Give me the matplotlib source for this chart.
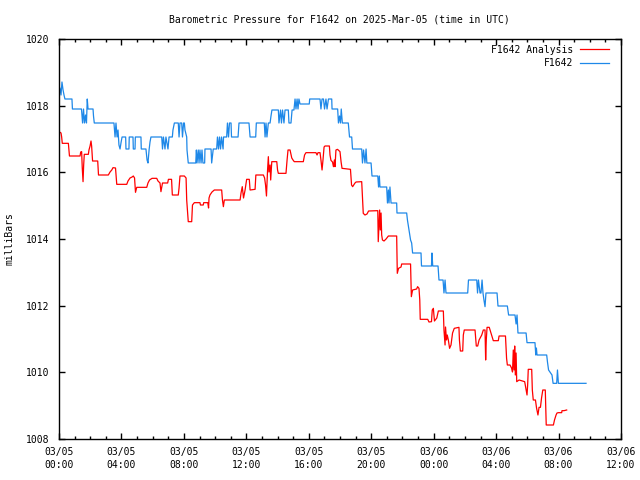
import matplotlib
matplotlib.use("Agg")
import matplotlib.pyplot as plt

plt.rcParams.update({
    "font.family": "DejaVu Sans Mono", "font.size": 7,
    "axes.linewidth": 1.0,
})

# hours since 2025-03-05 00:00 UTC, pressure in mb
obs_hours = [0.00, 0.06, 0.13, 0.19, 0.26, 0.32, 0.38, 0.83, 0.86, 1.44, 1.51, 1.57, 1.63, 1.70, 1.76,
             1.81, 1.86, 2.18, 2.21, 2.26, 3.52, 3.59, 3.65, 3.72, 3.78, 3.84, 3.91, 3.97, 4.04, 4.27,
             4.29, 4.48, 4.50, 4.74, 4.76, 4.87, 4.89, 5.25, 5.27, 5.57, 5.64, 5.70, 5.77, 5.83, 5.89,
             6.58, 6.63, 6.69, 6.79, 6.85, 6.98, 7.05, 7.26, 7.30, 7.39, 7.64, 7.69, 7.75, 7.86, 7.91,
             7.98, 8.03, 8.07, 8.18, 8.20, 8.28, 8.76, 8.80, 8.84, 8.92, 8.97, 9.03, 9.10, 9.16, 9.22,
             9.33, 9.35, 9.74, 9.78, 9.88, 10.10, 10.15, 10.22, 10.28, 10.35, 10.41, 10.51, 10.54, 10.74,
             10.79, 10.86, 10.92, 11.02, 11.05, 11.47, 11.53, 12.17, 12.24, 12.60, 12.64, 13.15, 13.20,
             13.26, 13.32, 13.41, 13.52, 13.58, 13.64, 14.05, 14.09, 14.19, 14.25, 14.32, 14.41, 14.48,
             14.69, 14.73, 14.86, 14.93, 15.05, 15.12, 15.18, 15.25, 15.31, 15.37, 15.44, 16.03, 16.06,
             16.72, 16.78, 16.85, 16.94, 17.01, 17.10, 17.17, 17.26, 17.47, 17.49, 17.85, 17.90, 17.97,
             18.03, 18.08, 18.15, 18.53, 18.61, 18.75, 18.80, 19.39, 19.44, 19.51, 19.60, 19.67, 19.72,
             19.99, 20.05, 20.42, 20.47, 20.52, 20.56, 20.99, 21.04, 21.10, 21.14, 21.20, 21.27, 21.63,
             21.65, 22.27, 22.32, 22.39, 22.45, 22.52, 22.59, 22.65, 23.19, 23.22, 23.86, 23.89, 23.94,
             24.28, 24.34, 24.60, 24.66, 24.73, 24.79, 26.18, 26.23, 26.76, 26.81, 26.87, 26.97, 27.03,
             27.10, 27.16, 27.22, 27.29, 27.35, 28.06, 28.12, 28.72, 28.80, 29.21, 29.28, 29.34, 29.40,
             29.92, 29.98, 30.49, 30.54, 30.58, 30.62, 31.24, 31.29, 31.36, 31.58, 31.65, 31.88, 31.93,
             31.99, 33.76]
obs_mb = [1018.38, 1018.53, 1018.32, 1018.71, 1018.47, 1018.32, 1018.20, 1018.20, 1017.90, 1017.90,
          1017.48, 1017.90, 1017.48, 1017.72, 1017.48, 1018.20, 1017.90, 1017.90, 1017.69, 1017.48,
          1017.48, 1017.06, 1017.48, 1017.06, 1017.27, 1016.82, 1016.70, 1016.88, 1017.06, 1017.06,
          1016.70, 1016.70, 1017.06, 1017.06, 1016.70, 1016.70, 1017.06, 1017.06, 1016.70, 1016.70,
          1016.37, 1016.28, 1016.67, 1016.91, 1017.06, 1017.06, 1016.70, 1017.06, 1016.70, 1017.06,
          1016.70, 1017.06, 1017.06, 1017.27, 1017.48, 1017.48, 1017.06, 1017.48, 1017.48, 1017.06,
          1017.48, 1017.48, 1017.27, 1017.06, 1016.67, 1016.28, 1016.28, 1016.67, 1016.28, 1016.67,
          1016.28, 1016.67, 1016.28, 1016.67, 1016.28, 1016.28, 1016.70, 1016.70, 1016.28, 1016.70,
          1016.70, 1017.06, 1016.70, 1017.06, 1016.70, 1017.06, 1016.70, 1017.06, 1017.06, 1017.48,
          1017.06, 1017.48, 1017.48, 1017.06, 1017.06, 1017.48, 1017.48, 1017.06, 1017.06, 1017.48,
          1017.48, 1017.06, 1017.48, 1017.06, 1017.48, 1017.48, 1017.69, 1017.87, 1017.87, 1017.48,
          1017.87, 1017.48, 1017.87, 1017.48, 1017.87, 1017.87, 1017.48, 1017.48, 1017.87, 1017.87,
          1018.20, 1017.90, 1018.20, 1017.90, 1018.20, 1018.05, 1018.05, 1018.20, 1018.20, 1017.90,
          1018.20, 1018.20, 1017.90, 1018.20, 1017.90, 1018.20, 1018.20, 1017.90, 1017.90, 1017.48,
          1017.69, 1017.48, 1017.90, 1017.48, 1017.48, 1017.06, 1017.06, 1016.70, 1016.70, 1016.28,
          1016.67, 1016.28, 1016.70, 1016.28, 1016.28, 1015.89, 1015.89, 1015.56, 1015.89, 1015.56,
          1015.56, 1015.08, 1015.47, 1015.08, 1015.56, 1015.08, 1015.08, 1014.78, 1014.78, 1014.57,
          1014.36, 1014.18, 1013.97, 1013.88, 1013.58, 1013.58, 1013.19, 1013.19, 1013.58, 1013.19,
          1013.19, 1012.77, 1012.77, 1012.38, 1012.77, 1012.38, 1012.38, 1012.77, 1012.77, 1012.38,
          1012.77, 1012.38, 1012.38, 1012.77, 1012.38, 1012.17, 1011.97, 1012.38, 1012.38, 1011.99,
          1011.99, 1011.72, 1011.72, 1011.45, 1011.72, 1011.18, 1011.18, 1010.89, 1010.89, 1010.52,
          1010.73, 1010.52, 1010.52, 1010.31, 1010.07, 1009.92, 1009.67, 1009.67, 1010.07, 1009.67,
          1009.67]

ana_hours = [0.00, 0.13, 0.17, 0.21, 0.60, 0.67, 1.35, 1.39, 1.45, 1.49, 1.54, 1.58, 1.62, 1.88, 1.92,
             1.99, 2.05, 2.09, 2.15, 2.48, 2.53, 3.16, 3.27, 3.38, 3.46, 3.62, 3.70, 4.34, 4.42, 4.55,
             4.68, 4.76, 4.84, 4.90, 4.98, 5.62, 5.70, 5.80, 5.96, 6.26, 6.34, 6.47, 6.53, 6.63, 6.96,
             7.01, 7.21, 7.26, 7.64, 7.69, 7.75, 8.03, 8.14, 8.18, 8.28, 8.50, 8.55, 8.67, 9.03, 9.06,
             9.24, 9.27, 9.53, 9.58, 9.61, 9.67, 9.80, 9.95, 10.42, 10.47, 10.53, 10.59, 11.60, 11.66,
             11.74, 11.82, 11.92, 12.02, 12.19, 12.24, 12.56, 12.61, 13.09, 13.17, 13.23, 13.29, 13.36,
             13.41, 13.45, 13.52, 13.56, 13.63, 13.95, 14.00, 14.05, 14.54, 14.61, 14.67, 14.80, 14.91,
             14.99, 15.07, 15.65, 15.73, 15.82, 16.46, 16.53, 16.59, 16.72, 16.78, 16.85, 16.91, 16.98,
             17.04, 17.32, 17.36, 17.42, 17.52, 17.58, 17.64, 17.68, 17.74, 17.84, 18.00, 18.07, 18.13,
             18.67, 18.74, 18.81, 18.96, 19.03, 19.39, 19.44, 19.49, 19.60, 19.73, 19.83, 20.42, 20.45,
             20.50, 20.54, 20.58, 20.63, 20.67, 20.72, 20.82, 20.95, 21.10, 21.63, 21.67, 21.75, 21.91,
             21.95, 22.52, 22.57, 22.65, 22.91, 22.97, 23.06, 23.11, 23.14, 23.62, 23.70, 23.86, 23.91,
             23.98, 24.05, 24.20, 24.30, 24.62, 24.66, 24.73, 24.76, 24.82, 24.87, 24.94, 25.02, 25.11,
             25.21, 25.32, 25.62, 25.65, 25.71, 25.86, 25.90, 25.96, 26.65, 26.73, 26.82, 26.91, 27.08,
             27.18, 27.29, 27.33, 27.37, 27.42, 27.56, 27.71, 27.82, 28.14, 28.19, 28.60, 28.67, 28.72,
             28.89, 28.99, 29.05, 29.10, 29.15, 29.19, 29.23, 29.28, 29.32, 29.47, 29.83, 29.92, 29.98,
             30.02, 30.06, 30.28, 30.32, 30.38, 30.52, 30.59, 30.68, 30.75, 30.84, 30.91, 30.99, 31.15,
             31.21, 31.67, 31.74, 31.84, 31.90, 31.99, 32.20, 32.22, 32.35, 32.52]
ana_mb = [1017.22, 1017.18, 1017.06, 1016.87, 1016.87, 1016.49, 1016.49, 1016.61, 1016.62, 1016.13,
          1015.72, 1016.22, 1016.54, 1016.54, 1016.67, 1016.79, 1016.94, 1016.79, 1016.34, 1016.34,
          1015.92, 1015.92, 1016.01, 1016.07, 1016.14, 1016.13, 1015.64, 1015.64, 1015.74, 1015.83,
          1015.86, 1015.89, 1015.83, 1015.40, 1015.55, 1015.55, 1015.68, 1015.77, 1015.82, 1015.82,
          1015.74, 1015.68, 1015.42, 1015.68, 1015.68, 1015.79, 1015.79, 1015.32, 1015.32, 1015.53,
          1015.89, 1015.89, 1015.83, 1015.17, 1014.52, 1014.52, 1015.02, 1015.09, 1015.09, 1015.02,
          1015.02, 1015.09, 1015.09, 1014.93, 1015.23, 1015.32, 1015.41, 1015.47, 1015.47, 1015.17,
          1014.97, 1015.17, 1015.17, 1015.38, 1015.57, 1015.23, 1015.47, 1015.79, 1015.79, 1015.47,
          1015.49, 1015.92, 1015.92, 1015.83, 1015.62, 1015.29, 1016.07, 1016.47, 1016.01, 1016.22,
          1015.77, 1016.32, 1016.32, 1016.07, 1015.97, 1015.97, 1016.37, 1016.67, 1016.67, 1016.43,
          1016.37, 1016.32, 1016.32, 1016.52, 1016.59, 1016.59, 1016.52, 1016.59, 1016.59, 1016.37,
          1016.07, 1016.37, 1016.76, 1016.79, 1016.79, 1016.52, 1016.36, 1016.31, 1016.17, 1016.37,
          1016.17, 1016.67, 1016.69, 1016.62, 1016.31, 1016.12, 1016.09, 1015.62, 1015.57, 1015.68,
          1015.71, 1015.72, 1015.27, 1014.77, 1014.72, 1014.75, 1014.84, 1014.85, 1013.92, 1014.42,
          1014.87, 1014.27, 1014.78, 1014.12, 1013.97, 1013.94, 1014.00, 1014.09, 1014.09, 1012.97,
          1013.12, 1013.16, 1013.25, 1013.25, 1012.27, 1012.47, 1012.50, 1012.57, 1012.52, 1012.17,
          1011.59, 1011.59, 1011.51, 1011.52, 1011.87, 1011.92, 1011.54, 1011.63, 1011.84, 1011.84,
          1011.27, 1010.82, 1011.36, 1010.97, 1011.12, 1010.97, 1010.72, 1010.82, 1011.18, 1011.32,
          1011.35, 1010.97, 1010.64, 1010.64, 1011.12, 1011.27, 1011.27, 1010.79, 1010.79, 1010.97,
          1011.12, 1011.27, 1011.27, 1010.37, 1010.97, 1011.35, 1011.35, 1011.12, 1010.95, 1010.95,
          1011.09, 1011.09, 1010.42, 1010.22, 1010.22, 1010.13, 1010.01, 1010.67, 1010.07, 1010.79,
          1009.92, 1010.58, 1009.72, 1009.77, 1009.72, 1009.47, 1009.32, 1009.62, 1010.09, 1010.09,
          1009.47, 1009.17, 1009.17, 1008.93, 1008.72, 1008.95, 1008.95, 1009.23, 1009.47, 1009.47,
          1008.42, 1008.42, 1008.57, 1008.72, 1008.78, 1008.79, 1008.79, 1008.85, 1008.85, 1008.87]

tick_hours = [0, 4, 8, 12, 16, 20, 24, 28, 32, 36]
tick_labels = ["03/05\n00:00", "03/05\n04:00", "03/05\n08:00", "03/05\n12:00", "03/05\n16:00",
               "03/05\n20:00", "03/06\n00:00", "03/06\n04:00", "03/06\n08:00", "03/06\n12:00"]

fig = plt.figure(figsize=(6.4, 4.8), dpi=100)
ax = fig.add_axes([59 / 640, 1 - 439 / 480, 562 / 640, 400 / 480])

ax.plot(ana_hours, ana_mb, color="#ff0000", lw=0.9, label="F1642 Analysis")
ax.plot(obs_hours, obs_mb, color="#1e88e8", lw=0.9, label="F1642")

ax.set_xlim(0, 36)
ax.set_ylim(1008, 1020)
ax.set_xticks(tick_hours)
ax.set_xticklabels(tick_labels, linespacing=1.35)
ax.set_xticks(range(0, 37), minor=True)
ax.set_yticks(range(1008, 1021, 2))
ax.tick_params(which="both", direction="in", top=True, right=True, width=1.0)
ax.tick_params(which="major", length=4.5, pad=6)
ax.tick_params(which="minor", length=2.3)
ax.tick_params(axis="y", pad=7)

ax.legend(loc="upper right", bbox_to_anchor=(1.0, 1.015), frameon=False, markerfirst=False,
          handlelength=3.0, handletextpad=0.7, labelspacing=0.35, borderaxespad=0.8, fontsize=7)

fig.text(339 / 640, 1 - 19 / 480, "Barometric Pressure for F1642 on 2025-Mar-05 (time in UTC)",
         ha="center", va="center")
fig.text(10 / 640, 1 - 239 / 480, "milliBars", rotation=90, ha="center", va="center")

fig.savefig("out.png", dpi=100)
